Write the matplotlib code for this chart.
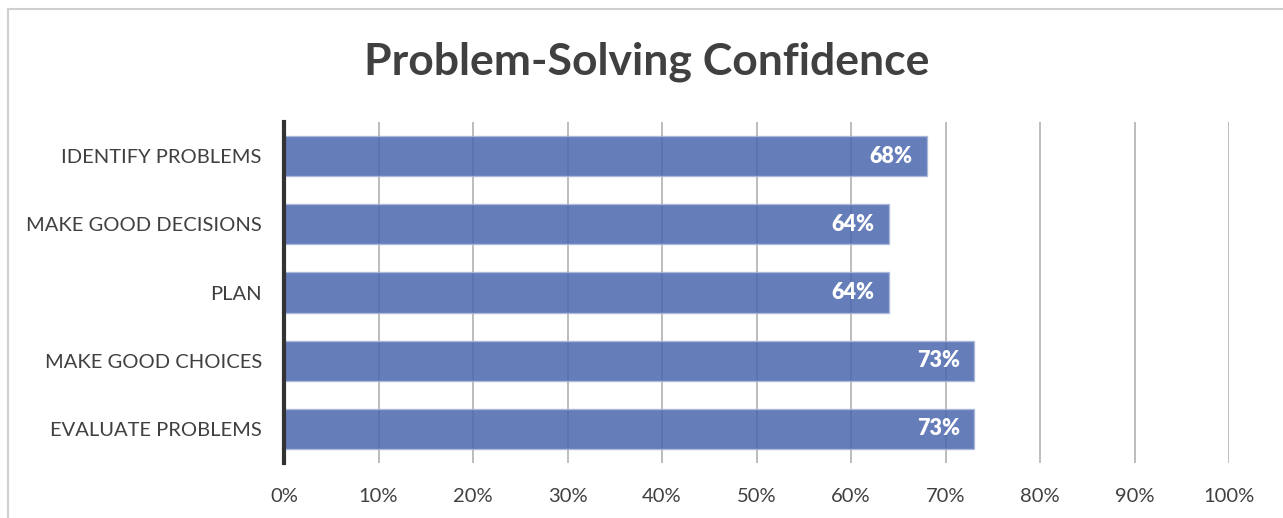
import matplotlib.pyplot as plt
from matplotlib.patches import Rectangle

categories = ['IDENTIFY PROBLEMS', 'MAKE GOOD DECISIONS', 'PLAN',
              'MAKE GOOD CHOICES', 'EVALUATE PROBLEMS']
values = [68, 64, 64, 73, 73]
xticks = [0, 10, 20, 30, 40, 50, 60, 70, 80, 90, 100]

plt.rcParams['font.family'] = ['Lato', 'DejaVu Sans']

fig = plt.figure(figsize=(12.83, 5.18), dpi=100)
fig.patches.append(Rectangle((8 / 1283, -0.1), 1.2, 1 - 9 / 518 + 0.1,
                             transform=fig.transFigure, fill=False,
                             edgecolor='#d0d0d0', linewidth=1.5))

ax = fig.add_axes([284 / 1283, 55 / 518, 945 / 1283, 341 / 518])
ypos = list(range(len(categories)))
ax.set_axisbelow(True)
ax.grid(axis='x', color='#b8b8b8', linewidth=1.3, zorder=1)
ax.barh(ypos, values, height=0.59, color='#4a66ad', alpha=0.85,
        edgecolor='#aab8da', linewidth=1, zorder=2)

for y, v in zip(ypos, values):
    ax.text(v - 1.5, y, f'{v}%', ha='right', va='center', color='white',
            fontsize=15.5, fontweight='heavy', zorder=4)

ax.set_xlim(0, 100)
ax.set_ylim(len(categories) - 0.5, -0.5)
ax.set_xticks(xticks)
ax.set_xticklabels([f'{t}%' for t in xticks])
ax.set_yticks(ypos)
ax.set_yticklabels(categories)
ax.tick_params(axis='both', length=0, labelsize=14.5, labelcolor='#404040')
ax.tick_params(axis='x', pad=18)
ax.tick_params(axis='y', pad=16)

for side in ['top', 'right', 'bottom']:
    ax.spines[side].set_visible(False)
ax.spines['left'].set_color('#333333')
ax.spines['left'].set_linewidth(3)
ax.spines['left'].set_zorder(5)

fig.text(647 / 1283, 1 - 62 / 518, 'Problem-Solving Confidence',
         ha='center', va='center', fontsize=32, fontweight='bold',
         color='#404040')

fig.savefig('out.png', dpi=100)
